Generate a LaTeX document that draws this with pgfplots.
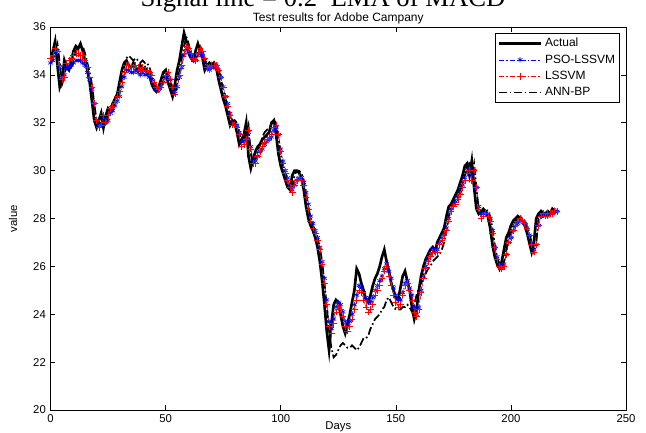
\documentclass[border=0pt]{standalone}
\usepackage{fontspec}
\setmainfont{Liberation Sans}
\newfontfamily\titleserif{Liberation Serif}
\usepackage{pgfplots}
\usepackage{pgfplotstable}
\pgfplotsset{compat=1.18}
\pgfplotstableread{
d A P L N
0 34.5 34.5 34.7 34.5
1 35.0 34.6 34.8 34.6
2 35.4 34.9 35.1 35.0
3 34.4 35.0 35.0 35.3
4 33.5 34.3 34.4 34.5
5 33.8 33.9 33.8 33.6
6 34.6 34.0 33.9 33.9
7 34.3 34.3 34.5 34.5
8 34.2 34.3 34.6 34.3
9 34.6 34.4 34.7 34.3
10 35.0 34.5 34.8 34.6
11 35.2 34.6 34.9 35.0
12 35.1 34.6 34.9 35.1
13 35.3 34.6 34.8 35.1
14 35.0 34.5 34.8 35.2
15 34.6 34.4 34.6 34.9
16 34.2 34.1 34.3 34.5
17 33.7 33.8 33.9 34.1
18 32.9 33.4 33.5 33.6
19 32.1 32.8 32.8 32.8
20 31.8 32.1 32.1 32.1
21 32.1 31.9 31.8 31.9
22 32.4 31.9 31.9 32.1
23 31.8 32.2 32.3 32.3
24 32.3 32.0 32.0 31.9
25 32.6 32.1 32.3 32.3
26 32.5 32.4 32.6 32.6
27 32.8 32.5 32.7 32.5
28 33.0 32.7 32.9 32.8
29 33.2 32.9 33.1 33.0
30 33.7 33.1 33.3 33.3
31 34.2 33.5 33.7 33.8
32 34.5 33.9 34.1 34.3
33 34.6 34.2 34.4 34.7
34 34.4 34.2 34.4 34.8
35 34.3 34.1 34.3 34.7
36 34.5 34.1 34.3 34.6
37 34.3 34.2 34.4 34.7
38 34.2 34.1 34.3 34.6
39 34.4 34.0 34.2 34.5
40 34.2 34.1 34.3 34.6
41 34.3 34.0 34.2 34.5
42 34.1 34.0 34.2 34.5
43 34.0 33.9 34.1 34.3
44 33.6 33.8 34.0 34.0
45 33.4 33.6 33.7 33.6
46 33.3 33.4 33.5 33.4
47 33.5 33.4 33.4 33.3
48 33.8 33.5 33.5 33.5
49 34.1 33.7 33.7 33.8
50 34.2 33.9 34.0 34.1
51 33.7 34.0 34.1 34.1
52 33.4 33.8 33.8 33.7
53 33.1 33.5 33.5 33.4
54 33.6 33.3 33.2 33.2
55 34.2 33.5 33.5 33.6
56 34.6 33.9 34.0 34.2
57 35.2 34.3 34.4 34.7
58 35.75 34.8 34.9 35.2
59 35.4 35.1 35.2 35.6
60 34.9 35.0 35.1 35.3
61 34.7 34.8 34.9 34.9
62 34.6 34.6 34.7 34.7
63 35.0 34.6 34.6 34.7
64 35.3 34.8 34.9 35.0
65 35.0 34.9 35.1 35.2
66 34.7 34.8 35.0 35.0
67 34.2 34.6 34.7 34.7
68 34.4 34.3 34.3 34.3
69 34.5 34.2 34.3 34.4
70 34.4 34.3 34.4 34.5
71 34.5 34.3 34.4 34.4
72 34.3 34.3 34.4 34.5
73 33.8 34.2 34.2 34.3
74 33.4 33.9 33.9 33.8
75 33.0 33.5 33.5 33.4
76 32.7 33.1 33.1 33.0
77 32.3 32.8 32.7 32.7
78 31.9 32.4 32.3 32.3
79 32.1 32.0 31.9 31.9
80 32.0 31.9 31.9 32.1
81 31.6 31.9 31.8 32.0
82 31.1 31.6 31.5 31.6
83 31.3 31.2 31.0 31.2
84 31.5 31.2 31.1 31.3
85 32.0 31.3 31.3 31.5
86 30.6 31.6 31.7 31.9
87 30.1 31.0 30.9 30.7
88 30.5 30.4 30.3 30.2
89 30.8 30.4 30.3 30.5
90 31.0 30.6 30.6 30.8
91 31.1 30.8 30.8 31.1
92 31.3 30.9 31.0 31.4
93 31.4 31.1 31.2 31.6
94 31.5 31.2 31.3 31.7
95 31.6 31.3 31.4 31.8
96 32.0 31.4 31.5 31.9
97 32.1 31.7 31.8 32.1
98 31.5 31.8 31.9 32.0
99 30.7 31.5 31.5 31.4
100 30.2 30.9 30.8 30.7
101 29.9 30.4 30.3 30.2
102 29.6 30.0 29.9 29.9
103 29.3 29.7 29.6 29.6
104 29.2 29.4 29.3 29.3
105 29.8 29.2 29.1 29.3
106 30.0 29.4 29.4 29.8
107 30.0 29.6 29.6 30.0
108 29.9 29.7 29.7 30.0
109 29.7 29.7 29.6 29.9
110 29.2 29.5 29.4 29.6
111 28.5 29.1 28.9 29.1
112 28.0 28.6 28.4 28.5
113 27.7 28.1 27.9 28.0
114 27.5 27.8 27.6 27.7
115 27.2 27.5 27.4 27.5
116 26.8 27.2 27.1 27.2
117 26.2 26.8 26.7 26.8
118 25.4 26.2 26.1 26.2
119 24.4 25.5 25.3 25.3
120 23.3 24.6 24.4 24.3
121 22.5 23.7 23.5 23.3
122 23.6 23.4 23.2 22.6
123 24.4 23.8 23.6 22.2
124 24.6 24.3 24.1 22.3
125 24.5 24.5 24.3 22.5
126 24.0 24.4 24.2 22.7
127 23.5 24.1 23.9 22.8
128 23.2 23.7 23.5 22.7
129 23.6 23.5 23.3 22.6
130 24.0 23.7 23.5 22.6
131 24.5 24.0 23.8 22.7
132 25.0 24.4 24.2 22.6
133 25.9 24.8 24.6 22.5
134 25.7 25.2 25.0 22.6
135 25.3 25.1 24.9 22.8
136 25.0 24.9 24.6 23.0
137 24.6 24.7 24.3 23.0
138 24.5 24.5 24.1 23.1
139 24.8 24.5 24.2 23.4
140 25.2 24.7 24.4 23.6
141 25.5 25.0 24.8 23.8
142 25.7 25.2 25.0 23.9
143 26.0 25.4 25.2 24.0
144 26.4 25.6 25.5 24.2
145 26.7 25.9 25.8 24.3
146 26.2 26.1 26.0 24.6
147 25.8 25.8 25.6 24.7
148 25.3 25.5 25.2 24.5
149 25.0 25.1 24.8 24.3
150 24.7 24.8 24.5 24.2
151 24.6 24.6 24.3 24.2
152 25.1 24.6 24.4 24.2
153 25.6 24.9 24.8 24.3
154 25.8 25.3 25.2 24.3
155 25.4 25.4 25.3 24.4
156 25.0 25.1 25.0 24.3
157 24.3 24.8 24.6 24.1
158 23.8 24.3 24.1 24.4
159 24.2 24.0 23.9 24.8
160 25.0 24.3 24.2 25.1
161 25.6 25.0 24.9 25.3
162 26.0 25.6 25.5 25.5
163 26.3 26.0 25.9 25.7
164 26.5 26.3 26.2 25.9
165 26.7 26.5 26.4 26.0
166 26.8 26.7 26.6 26.2
167 26.6 26.7 26.6 26.3
168 27.0 26.7 26.6 26.4
169 27.2 27.0 26.9 26.5
170 27.4 27.2 27.1 26.7
171 27.6 27.4 27.3 27.0
172 28.1 27.6 27.5 27.5
173 28.5 28.0 27.9 28.1
174 28.6 28.4 28.3 28.5
175 28.8 28.6 28.5 28.6
176 29.0 28.7 28.6 28.8
177 29.2 28.9 28.8 29.0
178 29.5 29.1 29.0 29.2
179 29.8 29.4 29.3 29.5
180 30.2 29.7 29.6 29.8
181 30.3 30.0 29.9 30.2
182 29.8 30.1 30.0 30.3
183 30.4 29.8 29.6 29.8
184 29.3 30.0 30.0 30.3
185 28.4 29.3 29.3 29.3
186 28.2 28.5 28.4 28.4
187 28.3 28.2 28.0 28.2
188 28.4 28.2 28.1 28.3
189 28.3 28.2 28.2 28.4
190 28.1 28.2 28.1 28.3
191 27.6 28.0 27.9 28.1
192 26.9 27.5 27.4 27.6
193 26.4 26.8 26.8 26.9
194 26.1 26.4 26.3 26.4
195 25.9 26.1 26.0 26.1
196 26.2 25.9 25.9 25.9
197 26.7 26.1 26.0 26.2
198 27.2 26.5 26.5 26.7
199 27.4 27.0 27.0 27.2
200 27.7 27.2 27.2 27.4
201 27.9 27.5 27.5 27.7
202 28.0 27.7 27.7 27.9
203 28.1 27.8 27.9 28.0
204 28.0 27.9 28.0 28.1
205 27.9 27.9 27.9 28.0
206 27.7 27.8 27.8 27.9
207 27.4 27.6 27.6 27.7
208 27.0 27.3 27.3 27.4
209 26.6 27.0 26.9 27.0
210 27.0 26.7 26.6 26.6
211 28.0 26.9 26.9 27.0
212 28.2 27.7 27.7 28.0
213 28.3 28.1 28.1 28.2
214 28.1 28.2 28.2 28.3
215 28.2 28.1 28.1 28.1
216 28.3 28.1 28.2 28.2
217 28.2 28.2 28.2 28.3
218 28.4 28.2 28.2 28.2
219 28.3 28.3 28.3 28.4
220 28.3 28.3 28.3 28.3
}\data
\begin{document}
\begin{tikzpicture}
\path[use as bounding box] (0,0) rectangle (484.5pt,324pt);
\node[font=\titleserif\fontsize{20}{24}\selectfont, anchor=base, inner sep=0pt] at (242.25pt,319pt) {Signal line = 0.2\ \ EMA of MACD};
\begin{axis}[
  at={(37.9pt,16.5pt)}, anchor=south west,
  scale only axis, width=431.6pt, height=287.25pt,
  xmin=0, xmax=250, ymin=20, ymax=36,
  xtick={0,50,...,250}, ytick={20,22,...,36},
  tick align=inside, major tick length=3.5pt,
  tick style={black, line width=0.4pt},
  axis line style={black, line width=0.5pt},
  font=\fontsize{8.5}{10}\selectfont,
  /pgf/number format/assume math mode=true,
  every axis title shift=0pt,
  title={Test results for Adobe Campany},
  title style={at={(axis description cs:0.5,1.0235)}, anchor=center, font=\fontsize{9}{10}\selectfont},
  xlabel={Days}, ylabel={value},
  xlabel style={at={(axis description cs:0.5,-0.043)}, anchor=center},
  ylabel style={at={(axis description cs:-0.065,0.5)}, anchor=center},
  legend cell align=left,
  legend style={at={(axis description cs:0.9896,0.9843)}, anchor=north east, draw=black, font=\fontsize{9}{10.5}\selectfont, inner sep=1.5pt, row sep=0.5pt},
  legend image code/.code={\draw[mark repeat=2,mark phase=2,#1] plot coordinates {(0pt,0pt) (15.75pt,0pt) (31.5pt,0pt)};},
]
\addplot[black, line width=2pt] table[x=d,y=A]{\data};
\addlegendentry{Actual}
\addplot[blue, line width=0.4pt, dash pattern=on 4pt off 1.5pt on 1pt off 1.5pt, mark=asterisk, mark size=2pt, mark options={solid, line width=0.5pt}] table[x=d,y=P]{\data};
\addlegendentry{PSO-LSSVM}
\addplot[red, line width=0.4pt, dash pattern=on 4pt off 1.5pt on 1pt off 1.5pt, mark=+, mark size=2.5pt, mark options={solid, line width=0.5pt}] table[x=d,y=L]{\data};
\addlegendentry{LSSVM}
\addplot[black, line width=1.3pt, dash pattern=on 6pt off 2pt on 1.2pt off 2pt] table[x=d,y=N]{\data};
\addlegendentry{ANN-BP}
\end{axis}
\end{tikzpicture}
\end{document}
